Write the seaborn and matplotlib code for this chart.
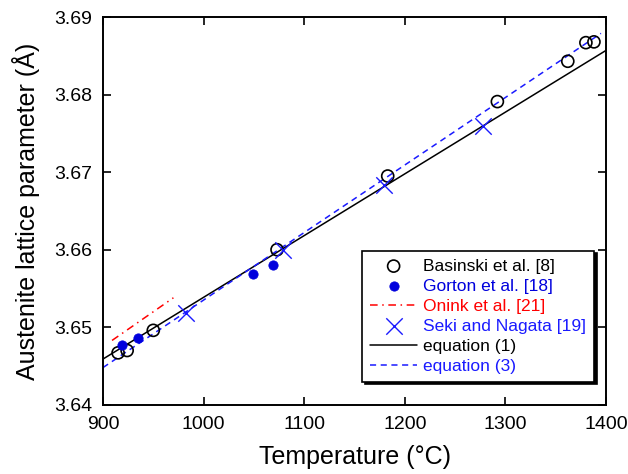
import numpy as np
import pandas as pd
import matplotlib
matplotlib.use("Agg")
import matplotlib.pyplot as plt
import seaborn as sns

# data
basinski_t = [915, 924, 950, 1073, 1183, 1292, 1362, 1380, 1388]
basinski_a = [3.6467, 3.6470, 3.6496, 3.6600, 3.6695, 3.6791, 3.6843, 3.6867, 3.6868]

gorton_t = [919, 935, 1049, 1069]
gorton_a = [3.6477, 3.6486, 3.6569, 3.6580]

onink_t = [909, 970]
onink_a = [3.6483, 3.6538]

seki_t = [983, 1079, 1179, 1278]
seki_a = [3.6518, 3.6600, 3.6683, 3.6760]

eq1_t = [900, 1400]
eq1_a = [3.6459, 3.6857]

eq3_t = [900, 1395]
eq3_a = [3.6448, 3.6879]

sns.set_style("ticks")
plt.rcParams['font.family'] = ['Liberation Sans', 'DejaVu Sans']
plt.rcParams.update({"text.color": "black", "axes.labelcolor": "black",
                     "xtick.color": "black", "ytick.color": "black",
                     "axes.edgecolor": "black"})

fig = plt.figure(figsize=(6.28, 4.74), dpi=100)
ax = fig.add_axes([0.164, 0.146, 0.801, 0.818])

sns.lineplot(x=eq1_t, y=eq1_a, ax=ax, color="black", lw=1.1, label="equation (1)")
sns.lineplot(x=eq3_t, y=eq3_a, ax=ax, color="#1a1aff", lw=1.1, linestyle=(0, (4, 3)),
             label="equation (3)")
sns.lineplot(x=onink_t, y=onink_a, ax=ax, color="red", lw=1.1, linestyle=(0, (5, 3, 1, 3)),
             label="Onink et al. [21]")
sns.scatterplot(x=basinski_t, y=basinski_a, ax=ax, marker="o", s=75, facecolor="none",
                edgecolor="black", linewidth=1.2, label="Basinski et al. [8]", zorder=4)
sns.scatterplot(x=gorton_t, y=gorton_a, ax=ax, marker="o", s=45, color="#0000dd",
                edgecolor="#0000dd", label="Gorton et al. [18]", zorder=4)
sns.scatterplot(x=seki_t, y=seki_a, ax=ax, marker="x", s=140, color="#1a1aff",
                linewidth=1.0, label="Seki and Nagata [19]", zorder=4)

ax.set_xlim(900, 1400)
ax.set_ylim(3.64, 3.69)
ax.set_xticks([900, 1000, 1100, 1200, 1300, 1400])
ax.set_yticks([3.64, 3.65, 3.66, 3.67, 3.68, 3.69])
ax.yaxis.set_major_formatter(matplotlib.ticker.FormatStrFormatter('%.2f'))
ax.tick_params(direction="in", length=6, width=1.2, top=True, right=True,
               labelsize=14, pad=8)
for sp in ax.spines.values():
    sp.set_linewidth(1.4)
    sp.set_visible(True)

ax.set_xlabel("Temperature (°C)", fontsize=18, labelpad=9)
ax.set_ylabel("Austenite lattice parameter (Å)", fontsize=18, labelpad=10)

h, l = ax.get_legend_handles_labels()
d = dict(zip(l, h))
order = ["Basinski et al. [8]", "Gorton et al. [18]", "Onink et al. [21]",
         "Seki and Nagata [19]", "equation (1)", "equation (3)"]
colors = ["black", "#0000dd", "red", "#1a1aff", "black", "#1a1aff"]
leg = ax.legend([d[k] for k in order], order, loc="lower right",
                bbox_to_anchor=(0.976, 0.06), fontsize=12.5, frameon=True,
                fancybox=False, shadow={"color": "black", "alpha": 1},
                edgecolor="black", framealpha=1, labelcolor=colors,
                handlelength=2.7, labelspacing=0.28, borderpad=0.45,
                handletextpad=0.35, borderaxespad=0)
leg.get_frame().set_linewidth(1.2)

fig.savefig("out.png", dpi=100)
